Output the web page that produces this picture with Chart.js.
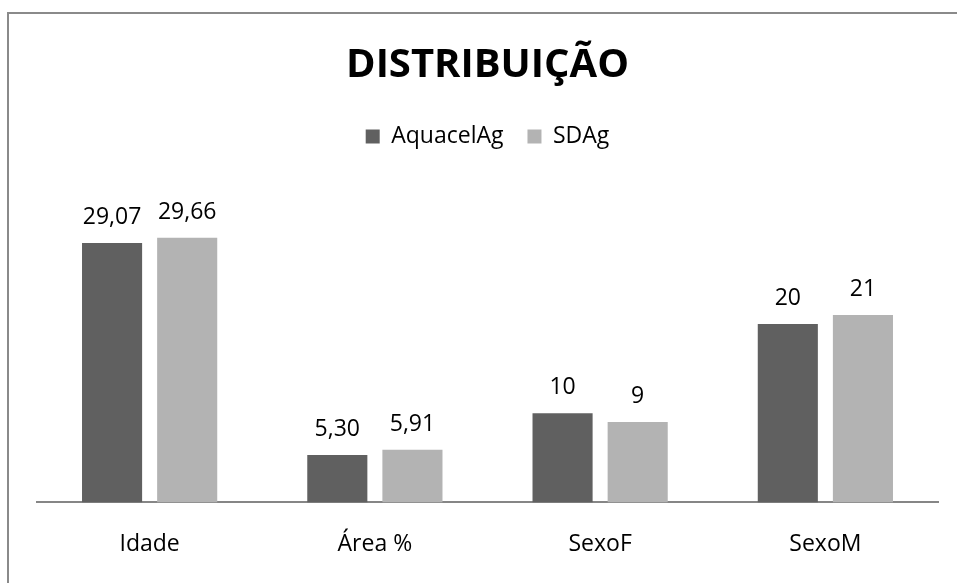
<!DOCTYPE html>
<html>
<head>
<meta charset="utf-8">
<script src="https://cdn.jsdelivr.net/npm/chart.js@4/dist/chart.umd.min.js"></script>
<style>
  html, body { margin: 0; padding: 0; background: #fff; overflow: hidden; }
  #wrap { position: relative; width: 957px; height: 583px; }
  #frame { position: absolute; left: 7px; top: 12px; width: 1000px; height: 1000px;
           border: 2px solid #8a8a8a; box-sizing: border-box; pointer-events: none; }
</style>
</head>
<body>
<div id="wrap">
  <canvas id="chart" width="957" height="583"></canvas>
  <div id="frame"></div>
</div>
<script>
// dados do gráfico
const categories = ['Idade', 'Área %', 'SexoF', 'SexoM'];
const aquacelAg = [29.07, 5.30, 10, 20];
const sdAg = [29.66, 5.91, 9, 21];
const labelsAquacel = ['29,07', '5,30', '10', '20'];
const labelsSdag = ['29,66', '5,91', '9', '21'];

const FONT = "'Open Sans', 'Noto Sans', sans-serif";

// escreve os valores em cima das barras
const valueLabels = {
  id: 'valueLabels',
  afterDatasetsDraw(chart) {
    const ctx = chart.ctx;
    ctx.save();
    ctx.font = '23px ' + FONT;
    ctx.fillStyle = '#000';
    ctx.textAlign = 'center';
    ctx.textBaseline = 'alphabetic';
    chart.data.datasets.forEach((ds, i) => {
      const meta = chart.getDatasetMeta(i);
      meta.data.forEach((bar, j) => {
        ctx.fillText(ds.valueText[j], bar.x, bar.y - 19);
      });
    });
    ctx.restore();
  }
};

new Chart(document.getElementById('chart'), {
  type: 'bar',
  data: {
    labels: categories,
    datasets: [
      {
        label: 'AquacelAg',
        data: aquacelAg,
        valueText: labelsAquacel,
        backgroundColor: '#606060',
        categoryPercentage: 0.667,
        barPercentage: 0.8
      },
      {
        label: 'SDAg',
        data: sdAg,
        valueText: labelsSdag,
        backgroundColor: '#b3b3b3',
        categoryPercentage: 0.667,
        barPercentage: 0.8
      }
    ]
  },
  options: {
    responsive: false,
    animation: false,
    layout: { padding: { left: 37, right: 19, top: 0, bottom: -3 } },
    plugins: {
      title: {
        display: true,
        text: 'DISTRIBUIÇÃO',
        color: '#000',
        font: { family: FONT, size: 40, weight: 'bold' },
        padding: { top: 42, bottom: 11 }
      },
      legend: {
        display: true,
        position: 'top',
        labels: {
          color: '#000',
          font: { family: FONT, size: 23 },
          boxWidth: 14,
          boxHeight: 14,
          padding: 24
        }
      },
      tooltip: { enabled: false }
    },
    scales: {
      x: {
        grid: { display: false, drawTicks: false },
        border: { display: true, color: '#868686', width: 2 },
        ticks: { color: '#000', font: { family: FONT, size: 23 }, padding: 28 }
      },
      y: {
        display: false,
        min: 0,
        max: 38.6
      }
    }
  },
  plugins: [valueLabels]
});
</script>
</body>
</html>
